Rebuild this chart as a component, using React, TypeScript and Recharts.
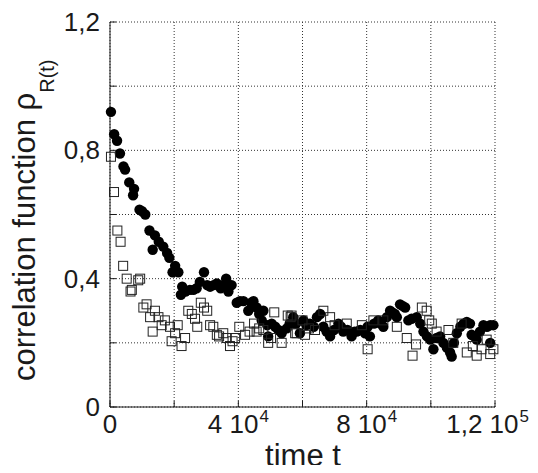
import React from 'react';
import { ScatterChart, Scatter, XAxis, YAxis, CartesianGrid } from 'recharts';

// filled circles
const circleTime = [
  300, 1300, 2200, 3100, 4200, 4700, 6000, 7200, 7500, 9200, 10000, 11000, 12300, 13300, 14000, 15200,
  16600, 17800, 18500, 19500, 20300, 21300, 22100, 22500, 23500, 24900, 26000, 27000, 28000, 29300,
  30300, 31200, 32300, 33300, 34500, 35300, 36200, 36900, 37900, 39500, 40500, 41600, 43100, 44000,
  44700, 45700, 46500, 47300, 47800, 49000, 49300, 50400, 51500, 52500, 53500, 55100, 56000, 57100,
  58000, 59200, 60300, 61200, 62300, 63500, 64500, 65500, 66500, 67500, 68600, 69800, 71200, 72000,
  72700, 74000, 75300, 76200, 76900, 78000, 79500, 80300, 81000, 82300, 83600, 84400, 85200, 86300,
  87300, 88000, 88800, 89400, 90400, 91200, 92000, 93000, 94000, 95600, 96700, 97700, 98800, 99800,
  100800, 101800, 102900, 103900, 105000, 106000, 106500, 107200, 108100, 109200, 110200, 111200,
  112200, 112700, 113500, 114300, 115300, 116400, 117500, 118500, 118500, 119500,
];
const circleRho = [
  0.92, 0.85, 0.83, 0.79, 0.75, 0.74, 0.7, 0.66, 0.68, 0.615, 0.61, 0.6, 0.55, 0.49, 0.535, 0.515,
  0.5, 0.48, 0.465, 0.42, 0.44, 0.42, 0.35, 0.375, 0.36, 0.365, 0.365, 0.37, 0.39, 0.42,
  0.38, 0.375, 0.38, 0.385, 0.37, 0.38, 0.4, 0.36, 0.38, 0.325, 0.33, 0.33, 0.3, 0.325,
  0.33, 0.31, 0.29, 0.27, 0.3, 0.255, 0.22, 0.26, 0.25, 0.24, 0.23, 0.245, 0.26, 0.28,
  0.26, 0.23, 0.27, 0.255, 0.26, 0.25, 0.28, 0.29, 0.25, 0.235, 0.22, 0.24, 0.26, 0.25,
  0.235, 0.24, 0.22, 0.235, 0.235, 0.24, 0.23, 0.25, 0.22, 0.26, 0.27, 0.26, 0.25, 0.28,
  0.3, 0.295, 0.29, 0.28, 0.32, 0.315, 0.31, 0.27, 0.275, 0.28, 0.26, 0.235, 0.22, 0.21,
  0.18, 0.215, 0.22, 0.2, 0.185, 0.17, 0.157, 0.2, 0.23, 0.25, 0.26, 0.265,
  0.26, 0.225, 0.22, 0.21, 0.235, 0.255, 0.25, 0.255, 0.2, 0.255,
];

// open squares
const squareTime = [
  300, 1250, 2300, 3300, 4100, 5200, 6400, 6800, 8800, 9400, 10400, 11400, 12500, 13300, 14000, 15100,
  16100, 17100, 18700, 19200, 20300, 21100, 22300, 23400, 24400, 25500, 26500, 27200, 28300, 29300,
  30300, 31200, 32200, 33300, 34000, 35300, 36400, 37400, 38200, 39000, 40300, 42100, 43500, 44900,
  45700, 46500, 47800, 49300, 50200, 51200, 53500, 55400, 56300, 56600, 57700, 58200, 60000, 60800,
  62000, 63900, 66500, 68600, 70000, 73800, 78500, 80300, 82100, 85200, 89400, 92500, 94300, 95400,
  97200, 98700, 99500, 100300, 101800, 105500, 107000, 109600, 111200, 113100, 114300, 115800, 117400,
  118500, 119500,
];
const squareRho = [
  0.78, 0.67, 0.55, 0.515, 0.44, 0.4, 0.36, 0.365, 0.395, 0.4, 0.31, 0.32, 0.28, 0.235, 0.3, 0.28,
  0.255, 0.27, 0.25, 0.205, 0.23, 0.255, 0.19, 0.215, 0.3, 0.29, 0.275, 0.25, 0.325, 0.31,
  0.3, 0.255, 0.25, 0.225, 0.22, 0.23, 0.215, 0.19, 0.205, 0.215, 0.25, 0.225, 0.235, 0.26,
  0.235, 0.245, 0.24, 0.2, 0.215, 0.295, 0.2, 0.285, 0.28, 0.285, 0.23, 0.23, 0.27, 0.225,
  0.245, 0.24, 0.3, 0.28, 0.255, 0.26, 0.255, 0.18, 0.27, 0.27, 0.25, 0.215, 0.16, 0.195,
  0.31, 0.3, 0.27, 0.26, 0.235, 0.24, 0.2, 0.26, 0.17, 0.19, 0.16, 0.18, 0.21,
  0.165, 0.18,
];

const xTicks = [0, 20000, 40000, 60000, 80000, 100000, 120000];
const xTickBase = ['0', '', '4 10', '', '8 10', '', '1,2 10'];
const xTickExp = ['', '', '4', '', '4', '', '5'];
const yTicks = [0, 0.2, 0.4, 0.6, 0.8, 1.0, 1.2];
const yTickLabels = ['0', '', '0,4', '', '0,8', '', '1,2'];

const circleData = circleTime.map((t, i) => ({ t, r: circleRho[i] }));
const squareData = squareTime.map((t, i) => ({ t, r: squareRho[i] }));

const FONT = '"Liberation Sans", Arial, Helvetica, sans-serif';
const INK = '#1a1a1a';

const LeftTick = ({ x, y, index }: any) => (
  <g>
    <line x1={x} y1={y} x2={x + 6} y2={y} stroke={INK} />
    <text x={x - 10} y={y + 9} textAnchor="end" fontSize={26} fontFamily={FONT} fill={INK}>
      {yTickLabels[index]}
    </text>
  </g>
);

const RightTick = ({ x, y }: any) => <line x1={x} y1={y} x2={x - 6} y2={y} stroke={INK} />;

const BottomTick = ({ x, y, index }: any) => {
  const last = index === xTicks.length - 1;
  return (
    <g>
      <line x1={x} y1={y} x2={x} y2={y - 6} stroke={INK} />
      <text
        x={last ? x + 34 : x}
        y={y + 26}
        textAnchor={last ? 'end' : 'middle'}
        fontSize={26}
        fontFamily={FONT}
        fill={INK}
      >
        {xTickBase[index]}
        {xTickExp[index] ? (
          <tspan dx={1} dy={-11} fontSize={17}>
            {xTickExp[index]}
          </tspan>
        ) : null}
      </text>
    </g>
  );
};

const TopTick = ({ x, y }: any) => <line x1={x} y1={y} x2={x} y2={y + 6} stroke={INK} />;

const Dot = (p: any) => <circle cx={p.cx} cy={p.cy} r={5.2} fill="#000" />;
const Square = (p: any) => (
  <rect x={p.cx - 4.5} y={p.cy - 4.5} width={9} height={9} fill="none" stroke="#222" strokeWidth={1} />
);

const YTitle = () => (
  <text
    x={27}
    y={373}
    transform="rotate(-90, 27, 373)"
    fontSize={31}
    fontFamily={FONT}
    fill={INK}
  >
    correlation function ρ
    <tspan dy={19} fontSize={20}>R(t)</tspan>
  </text>
);

const XTitle = () => (
  <text x={295} y={458} textAnchor="middle" fontSize={31} fontFamily={FONT} fill={INK}>
    time t
  </text>
);

export default function App() {
  return (
    <div style={{ marginBottom: -8 }}>
      <ScatterChart width={522} height={465} margin={{ top: 14, right: 35, bottom: 0, left: 0 }}>
        <CartesianGrid stroke="#333" strokeDasharray="1 2" />
        <XAxis
          type="number"
          dataKey="t"
          domain={[0, 120000]}
          ticks={xTicks}
          interval={0}
          height={66}
          tickSize={0}
          tickMargin={0}
          tickLine={false}
          axisLine={{ stroke: INK }}
          tick={<BottomTick />}
          label={{ content: () => <XTitle /> }}
        />
        <XAxis
          xAxisId="top"
          orientation="top"
          type="number"
          domain={[0, 120000]}
          ticks={xTicks}
          interval={0}
          height={0}
          tickSize={0}
          tickMargin={0}
          tickLine={false}
          axisLine={{ stroke: INK }}
          tick={<TopTick />}
        />
        <YAxis
          type="number"
          dataKey="r"
          domain={[0, 1.2]}
          ticks={yTicks}
          interval={0}
          width={102}
          tickSize={0}
          tickMargin={0}
          tickLine={false}
          axisLine={{ stroke: INK }}
          tick={<LeftTick />}
          label={{ content: () => <YTitle /> }}
        />
        <YAxis
          yAxisId="right"
          orientation="right"
          type="number"
          domain={[0, 1.2]}
          ticks={yTicks}
          interval={0}
          width={0}
          tickSize={0}
          tickMargin={0}
          tickLine={false}
          axisLine={{ stroke: INK }}
          tick={<RightTick />}
        />
        <Scatter data={circleData} shape={<Dot />} isAnimationActive={false} />
        <Scatter data={squareData} shape={<Square />} isAnimationActive={false} />
      </ScatterChart>
    </div>
  );
}
